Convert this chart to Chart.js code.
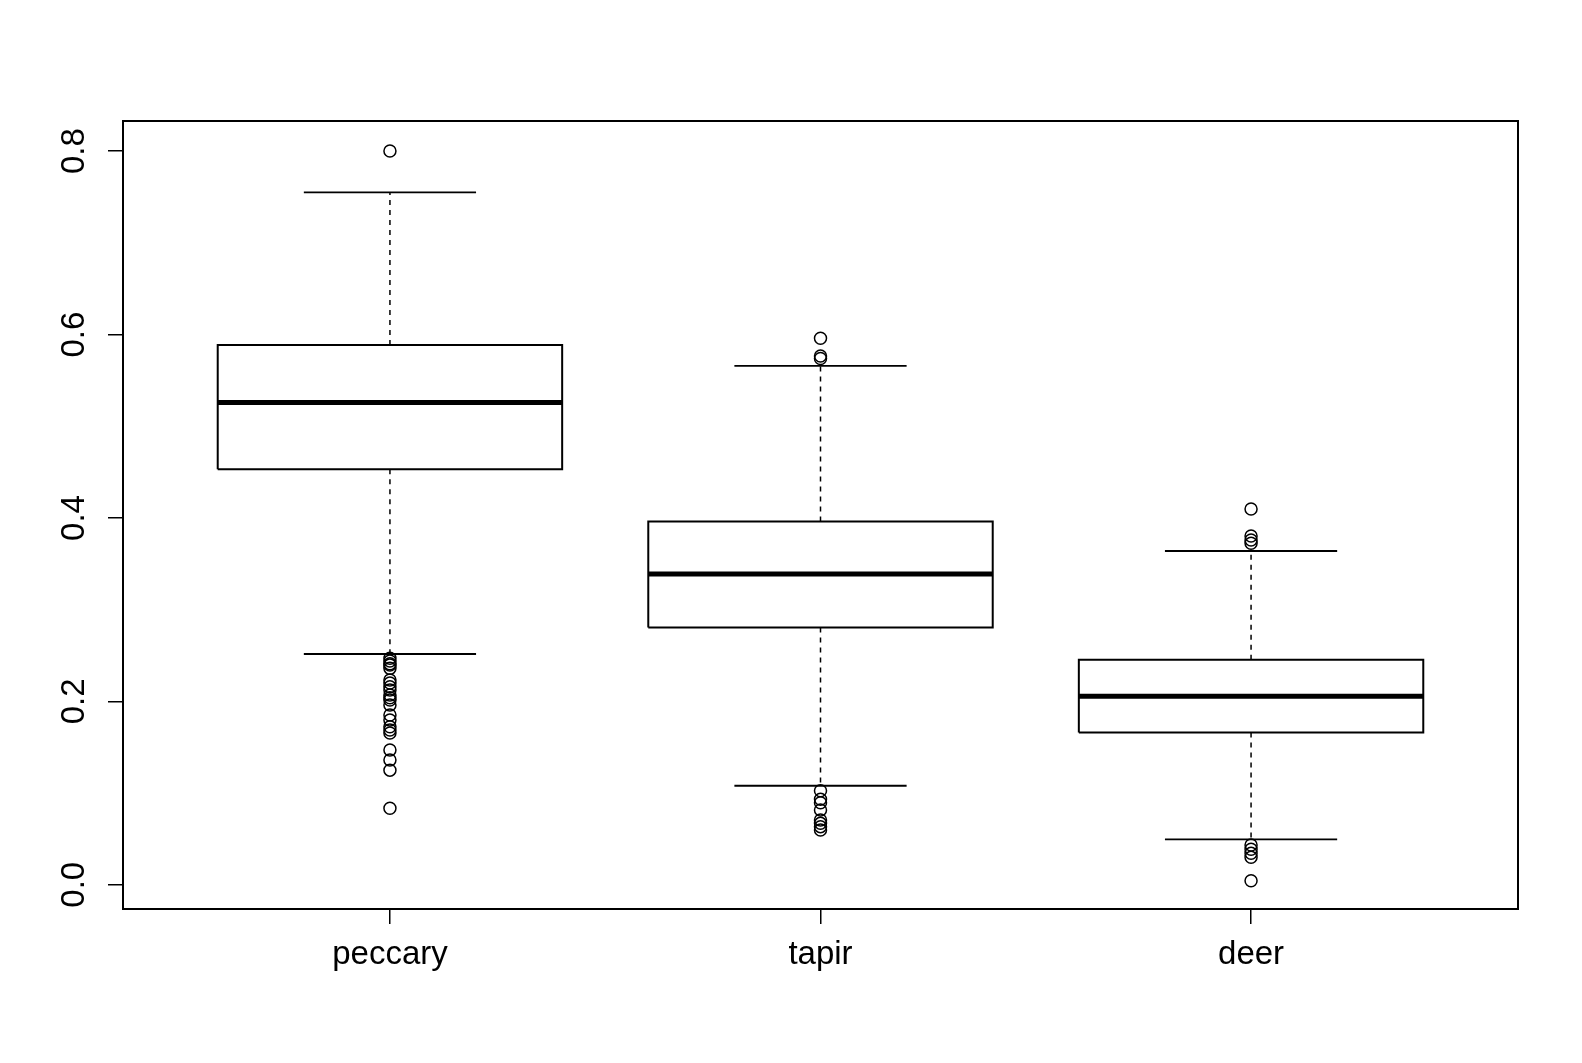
<!DOCTYPE html>
<html>
<head>
<meta charset="utf-8">
<script src="https://cdn.jsdelivr.net/npm/chart.js@4.4.1/dist/chart.umd.min.js"></script>
<style>
  html, body { margin: 0; padding: 0; background: #fff; }
  #wrap { width: 1582px; height: 1063px; }
</style>
</head>
<body>
<div id="wrap"><canvas id="boxChart" width="1582" height="1063"></canvas></div>
<script>
// datos
const categorias = ['peccary', 'tapir', 'deer'];
const bigoteInf = [0.2517, 0.108, 0.0496];
const cuartil1 = [0.4532, 0.2805, 0.1661];
const mediana = [0.5259, 0.3389, 0.2057];
const cuartil3 = [0.5886, 0.3961, 0.2454];
const bigoteSup = [0.755, 0.5658, 0.364];

const atipicosPeccary = [0.8001, 0.247, 0.244, 0.241, 0.2397, 0.236, 0.2233, 0.2201, 0.216, 0.2124,
  0.207, 0.204, 0.2015, 0.196, 0.1851, 0.1797, 0.1724, 0.1688, 0.1655, 0.147, 0.136, 0.125, 0.0834];
const atipicosTapir = [0.596, 0.5767, 0.574, 0.1026, 0.0932, 0.0895, 0.0816, 0.0707, 0.067, 0.0634, 0.0598];
const atipicosDeer = [0.4098, 0.3804, 0.376, 0.3724, 0.0434, 0.0387, 0.0343, 0.030, 0.0045];
const atipicos = [atipicosPeccary, atipicosTapir, atipicosDeer];

const yTicks = [0, 0.2, 0.4, 0.6, 0.8];

var anchoCaja = 0.4;
var anchoBigote = 0.2;

// armar los segmentos con cortes null
var puntosCaja = [];
var puntosMediana = [];
var puntosBigote = [];
var puntosTope = [];
var puntosAtipicos = [];

for (var i = 0; i < categorias.length; i++) {
  var x = i + 1;
  puntosCaja.push({x: x - anchoCaja, y: cuartil1[i]}, {x: x + anchoCaja, y: cuartil1[i]},
    {x: x + anchoCaja, y: cuartil3[i]}, {x: x - anchoCaja, y: cuartil3[i]},
    {x: x - anchoCaja, y: cuartil1[i]}, {x: x, y: null});
  puntosMediana.push({x: x - anchoCaja, y: mediana[i]}, {x: x + anchoCaja, y: mediana[i]}, {x: x, y: null});
  puntosBigote.push({x: x, y: cuartil3[i]}, {x: x, y: bigoteSup[i]}, {x: x, y: null},
    {x: x, y: cuartil1[i]}, {x: x, y: bigoteInf[i]}, {x: x, y: null});
  puntosTope.push({x: x - anchoBigote, y: bigoteSup[i]}, {x: x + anchoBigote, y: bigoteSup[i]}, {x: x, y: null},
    {x: x - anchoBigote, y: bigoteInf[i]}, {x: x + anchoBigote, y: bigoteInf[i]}, {x: x, y: null});
  atipicos[i].forEach(v => puntosAtipicos.push({x: x, y: v}));
}

function lineaSet(data, ancho, dash) {
  return {
    data: data,
    showLine: true,
    borderColor: '#000',
    borderWidth: ancho,
    borderDash: dash || [],
    borderCapStyle: 'butt',
    pointRadius: 0,
    fill: false,
    spanGaps: false
  };
}

// marco completo alrededor del area
const marco = {
  id: 'marco',
  afterDraw(chart) {
    const a = chart.chartArea;
    const ctx = chart.ctx;
    ctx.save();
    ctx.strokeStyle = '#000';
    ctx.lineWidth = 2;
    ctx.strokeRect(a.left, a.top, a.right - a.left, a.bottom - a.top);
    ctx.restore();
  }
};

const fuente = {family: 'Liberation Sans, Arial, sans-serif', size: 33};

new Chart(document.getElementById('boxChart').getContext('2d'), {
  type: 'scatter',
  data: {
    datasets: [
      lineaSet(puntosBigote, 1.5, [5, 5]),
      lineaSet(puntosTope, 1.8),
      lineaSet(puntosCaja, 2),
      lineaSet(puntosMediana, 5),
      {
        data: puntosAtipicos,
        showLine: false,
        pointStyle: 'circle',
        pointRadius: 6,
        pointBorderWidth: 1.5,
        pointBorderColor: '#000',
        pointBackgroundColor: 'rgba(0,0,0,0)'
      }
    ]
  },
  options: {
    responsive: false,
    animation: false,
    layout: { padding: { left: 0, top: 121, right: 64, bottom: 0 } },
    plugins: { legend: { display: false }, tooltip: { enabled: false } },
    scales: {
      x: {
        type: 'linear',
        min: 0.38,
        max: 3.62,
        afterBuildTicks: s => { s.ticks = categorias.map((c, i) => ({value: i + 1})); },
        afterFit: s => { s.height = 154; },
        border: { display: false },
        grid: { drawOnChartArea: false, color: '#000', lineWidth: 1.5, tickLength: 15 },
        ticks: {
          color: '#000',
          font: fuente,
          padding: 11,
          maxRotation: 0,
          autoSkip: false,
          callback: v => categorias[v - 1]
        }
      },
      y: {
        min: -0.0264,
        max: 0.8329,
        afterBuildTicks: s => { s.ticks = yTicks.map(v => ({value: v})); },
        afterFit: s => { s.width = 123; },
        border: { display: false },
        grid: { drawOnChartArea: false, color: '#000', lineWidth: 1.5, tickLength: 15 },
        ticks: {
          color: '#000',
          font: fuente,
          padding: 10,
          minRotation: 90,
          maxRotation: 90,
          crossAlign: 'center',
          callback: v => v.toFixed(1)
        }
      }
    }
  },
  plugins: [marco]
});
</script>
</body>
</html>
